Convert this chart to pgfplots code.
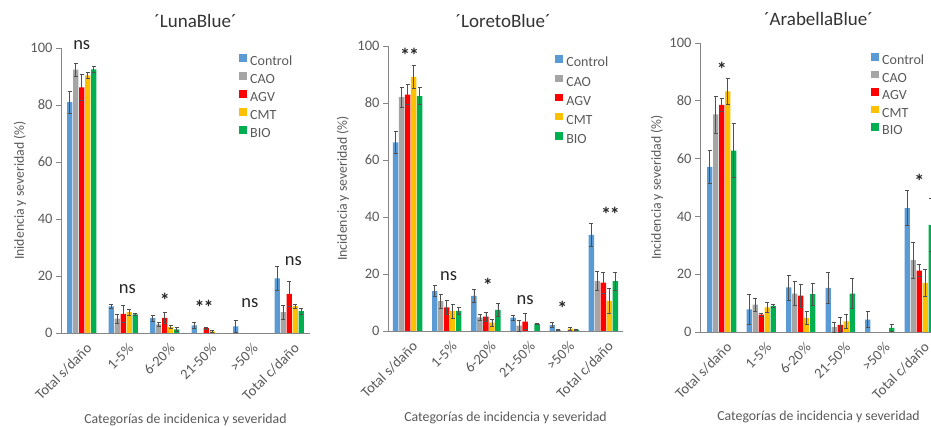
\documentclass[border=0pt]{standalone}
\usepackage{fontspec}
\setmainfont{Carlito}
\usepackage{pgfplots}
\usepackage{pgfplotstable}
\pgfplotsset{compat=1.18}

\definecolor{cCtrl}{HTML}{5B9BD5}
\definecolor{cCAO}{HTML}{A5A5A5}
\definecolor{cAGV}{HTML}{FF0000}
\definecolor{cCMT}{HTML}{FFC000}
\definecolor{cBIO}{HTML}{00B050}
\definecolor{axisgray}{HTML}{868686}
\definecolor{txtgray}{HTML}{595959}
\definecolor{errgray}{HTML}{505050}

% mean (c, g, r, y, b) and error (ce, ge, re, ye, be) per damage category:
% c = Control, g = CAO, r = AGV, y = CMT, b = BIO
\pgfplotstableread{
x  c    ce   g    ge   r    re   y    ye   b    be
0  81.0 3.8  92.4 2.2  86.2 4.5  90.4 1.0  92.5 1.0
1  9.3  0.7  5.0  1.7  6.7  3.0  7.3  1.0  6.5  0.4
2  5.2  1.0  3.0  0.8  5.3  2.0  2.1  0.6  1.3  0.8
3  2.7  0.9  0    0    1.7  0.4  0.6  0.2  0    0
4  2.3  2.1  0    0    0    0    0    0    0    0
5  19.2 4.1  7.3  2.4  13.7 4.3  9.4  0.8  7.7  1.0
}\luna

\pgfplotstableread{
x  c    ce   g    ge   r    re   y    ye   b    be
0  66.2 3.9  82.1 3.5  82.9 3.5  89.2 4.1  82.4 3.0
1  14.0 2.0  10.5 2.5  8.3  2.6  7.0  2.5  7.1  1.3
2  12.3 2.3  4.8  1.0  5.0  1.7  2.9  1.2  7.4  2.3
3  4.7  0.9  1.9  2.0  3.3  2.8  0    0    2.5  0.2
4  2.1  0.8  0.4  0.1  0    0    0.8  0.4  0.5  0.2
5  33.7 4.1  17.5 3.3  17.0 3.7  10.6 4.4  17.5 3.1
}\loreto

\pgfplotstableread{
x  c    ce   g    ge   r    re   y    ye   b    be
0  57.1 5.8  75.3 6.4  78.6 2.2  83.3 4.6  62.8 9.3
1  7.8  5.3  9.5  2.3  6.0  0.6  8.5  1.7  9.0  0.6
2  15.4 4.3  13.3 4.2  12.6 4.0  4.9  2.1  13.1 3.9
3  15.3 5.3  1.7  1.8  2.5  2.5  3.7  2.4  13.3 5.2
4  4.3  2.7  0    0    0    0    0    0    1.4  1.3
5  42.9 6.0  24.9 6.2  21.2 2.1  17.0 4.7  37.1 9.2
}\arabella

\tikzset{
  titlef/.style={font=\fontsize{19}{21}\selectfont, text=black!80},
  labf/.style={font=\fontsize{13.8}{15}\selectfont, text=txtgray},
  sigf/.style={font=\fontsize{18.5}{20}\selectfont, text=black!85, yshift=-3pt},
  astf/.style={font=\fontsize{20}{22}\selectfont\bfseries, text=black!85, yshift=-4pt},
}

\pgfplotsset{
  sq/.style={legend image code/.code={\fill[##1] (0pt,0.5pt) rectangle (7.5pt,8pt);}},
  panel/.style={
    scale only axis, anchor=south west,
    ybar=0.6pt, bar width=5.4pt,
    ymin=0, ymax=100, ytick={0,20,...,100},
    xtick={0,...,5},
    xticklabels={Total s/daño,1-5\%,6-20\%,21-50\%,>50\%,Total c/daño},
    axis x line*=bottom, axis y line*=left,
    axis line style={axisgray, line width=0.9pt},
    tick align=outside, major tick length=5pt,
    ytick style={axisgray, line width=0.8pt},
    xtick style={draw=none},
    tick label style={font=\fontsize{14.5}{16}\selectfont, text=txtgray},
    /pgf/number format/assume math mode=true,
    xticklabel style={rotate=45, anchor=east, yshift=-11pt, xshift=3pt},
    clip=false,
    legend style={draw=none, fill=none, anchor=north west,
      font=\fontsize{14}{16}\selectfont, text=txtgray, inner sep=0pt,
      nodes={inner sep=1pt, text height=10pt, text depth=3pt},
      /tikz/every odd column/.style={column sep=2.5pt}},
    legend cell align=left,
    % empty categories carry no bar and no error bar
    y filter/.expression={y==0 ? nan : y},
    error bars/y dir=both, error bars/y explicit,
    error bars/error bar style={errgray, line width=0.6pt},
    error bars/error mark options={rotate=90, mark size=2pt, errgray, line width=0.6pt},
  },
}

\newcommand{\bars}[1]{%
  \addplot[fill=cCtrl, draw=none, sq] table[x=x, y=c, y error=ce] {#1};
  \addplot[fill=cCAO,  draw=none, sq] table[x=x, y=g, y error=ge] {#1};
  \addplot[fill=cAGV,  draw=none, sq] table[x=x, y=r, y error=re] {#1};
  \addplot[fill=cCMT,  draw=none, sq] table[x=x, y=y, y error=ye] {#1};
  \addplot[fill=cBIO,  draw=none, sq] table[x=x, y=b, y error=be] {#1};
  \legend{Control,CAO,AGV,CMT,BIO}%
}

\begin{document}
\begin{tikzpicture}
\path[use as bounding box] (0pt,0pt) rectangle (931pt,427pt);
\clip (0pt,0pt) rectangle (931pt,427pt);

% 'LunaBlue'
\begin{axis}[panel, at={(61pt,94pt)}, width=249pt, height=285pt,
    xmin=-0.5, xmax=5.5,
    legend style={at={(0.715,0.978)}, /tikz/row sep=2.5pt}]
  \bars{\luna}
  \node[titlef, yshift=27pt] at (axis description cs:0.54,1) {´LunaBlue´};
  \node[labf, rotate=90] at ([xshift=-41pt]axis description cs:0,0.5) {Inidencia y severidad (\%)};
  \node[labf] at ([yshift=-87pt]axis description cs:0.5,0) {Categorías de incidenica y severidad};
  \node[sigf] at (axis cs:0,102) {ns};
  \node[sigf] at (axis cs:1.1,16.6) {ns};
  \node[astf] at (axis cs:2,12.9) {*};
  \node[astf] at (axis cs:2.95,10.5) {*\kern-1pt*};
  \node[sigf] at (axis cs:4.05,11.4) {ns};
  \node[sigf] at (axis cs:5.1,26.3) {ns};
\end{axis}

% 'LoretoBlue'
\begin{axis}[panel, at={(388pt,96pt)}, width=235pt, height=285pt,
    xmin=-0.5, xmax=5.5,
    legend style={at={(0.711,0.968)}, /tikz/row sep=3.7pt}]
  \bars{\loreto}
  \node[titlef, yshift=25pt] at (axis description cs:0.49,1) {´LoretoBlue´};
  \node[labf, rotate=90] at ([xshift=-45pt]axis description cs:0,0.5) {Incidencia y severidad (\%)};
  \node[labf] at ([yshift=-87pt]axis description cs:0.5,0) {Categorías de incidencia y severidad};
  \node[astf] at (axis cs:0.05,98) {*\kern-1pt*};
  \node[sigf] at (axis cs:1.05,20.2) {ns};
  \node[astf] at (axis cs:2.05,17.3) {*};
  \node[sigf] at (axis cs:3,12) {ns};
  \node[astf] at (axis cs:3.95,9.5) {*};
  \node[astf] at (axis cs:5.18,42.5) {*\kern-1pt*};
\end{axis}

% 'ArabellaBlue'
\begin{axis}[panel, at={(700pt,95pt)}, width=237pt, height=289pt,
    xmin=-0.55, xmax=5.45,
    legend style={at={(0.7215,0.965)}, /tikz/row sep=2pt}]
  \bars{\arabella}
  \node[titlef, yshift=24pt] at (axis description cs:0.5,1) {´ArabellaBlue´};
  \node[labf, rotate=90] at ([xshift=-43pt]axis description cs:0,0.5) {Incidencia y severidad (\%)};
  \node[labf] at ([yshift=-85pt]axis description cs:0.5,0) {Categorías de incidencia y severidad};
  \node[astf] at (axis cs:0,92.2) {*};
  \node[astf] at (axis cs:5,53.5) {*};
\end{axis}
\end{tikzpicture}
\end{document}
